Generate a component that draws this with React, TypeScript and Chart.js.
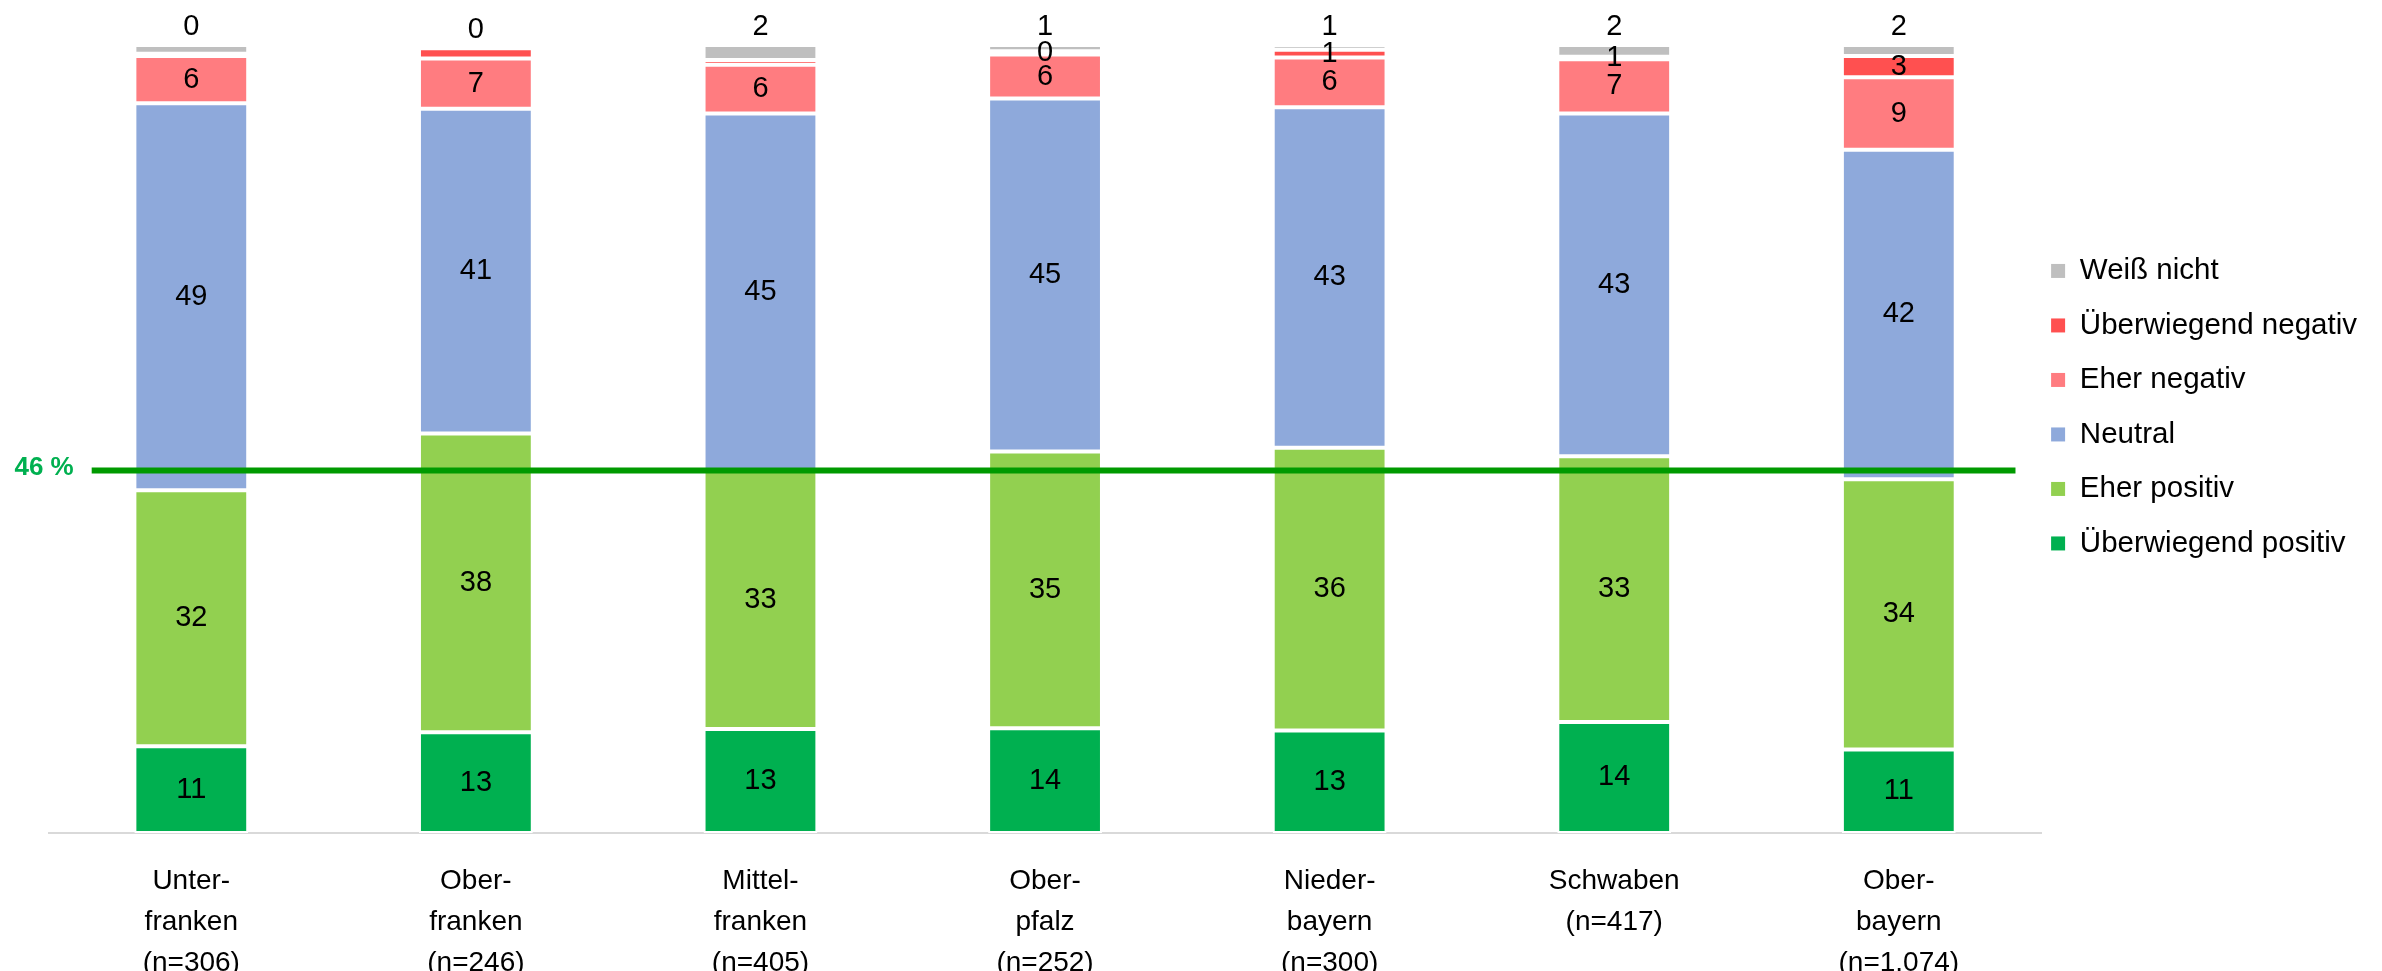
import React, { useEffect, useRef } from 'react';
import { Chart, registerables } from 'chart.js';

Chart.register(...registerables);

const SANS = '"Liberation Sans", Arial, sans-serif';

const categories = [
  ['Unter-', 'franken', '(n=306)'],
  ['Ober-', 'franken', '(n=246)'],
  ['Mittel-', 'franken', '(n=405)'],
  ['Ober-', 'pfalz', '(n=252)'],
  ['Nieder-', 'bayern', '(n=300)'],
  ['Schwaben', '(n=417)'],
  ['Ober-', 'bayern', '(n=1.074)'],
];

const seriesNames = ['Überwiegend positiv', 'Eher positiv', 'Neutral', 'Eher negativ', 'Überwiegend negativ', 'Weiß nicht'];
const seriesColors = ['#00B050', '#92D050', '#8EA9DB', '#FF7C80', '#FF5050', '#BFBFBF'];

// bar heights (percent)
const ueberwiegendPositiv = [11.0, 12.8, 13.2, 13.3, 13.0, 14.1, 10.6];
const eherPositiv = [32.5, 37.9, 32.8, 35.1, 35.9, 33.7, 34.3];
const neutral = [49.1, 41.2, 45.3, 44.8, 43.2, 43.5, 41.8];
const eherNegativ = [6.0, 6.4, 6.2, 5.6, 6.3, 6.9, 9.2];
const ueberwiegendNegativ = [0.3, 1.3, 0.6, 0.4, 1.0, 0.3, 2.7];
const weissNicht = [1.1, 0, 1.9, 0.8, 0.6, 1.5, 1.4];

// printed data labels
const labelsUeberwiegendPositiv = ['11', '13', '13', '14', '13', '14', '11'];
const labelsEherPositiv = ['32', '38', '33', '35', '36', '33', '34'];
const labelsNeutral = ['49', '41', '45', '45', '43', '43', '42'];
const labelsEherNegativ = ['6', '7', '6', '6', '6', '7', '9'];
const labelsUeberwiegendNegativ = ['', '', '', '0', '1', '1', '3'];
const labelsWeissNicht = ['0', '0', '2', '1', '1', '2', '2'];

const referenceValue = 46;
const referenceLabel = '46 %';

const seriesValues = [ueberwiegendPositiv, eherPositiv, neutral, eherNegativ, ueberwiegendNegativ, weissNicht];
const seriesLabels = [labelsUeberwiegendPositiv, labelsEherPositiv, labelsNeutral, labelsEherNegativ, labelsUeberwiegendNegativ, labelsWeissNicht];

const LEGEND_SHIFT = -15;

const legendShiftPlugin = {
  id: 'legendShift',
  afterLayout(chart: any) {
    if (chart.legend) {
      chart.legend.left += LEGEND_SHIFT;
      chart.legend.right += LEGEND_SHIFT;
    }
  },
};

const refLinePlugin = {
  id: 'refLine',
  afterDatasetsDraw(chart: any) {
    const { ctx, scales } = chart;
    const y = scales.y.getPixelForValue(referenceValue);
    const x1 = scales.x.getPixelForValue(-0.35);
    const x2 = scales.x.getPixelForValue(6.41);
    ctx.save();
    ctx.strokeStyle = '#009A00';
    ctx.lineWidth = 6;
    ctx.beginPath();
    ctx.moveTo(x1, y);
    ctx.lineTo(x2, y);
    ctx.stroke();
    ctx.font = `bold 26px ${SANS}`;
    ctx.fillStyle = '#00B050';
    ctx.textAlign = 'right';
    ctx.textBaseline = 'middle';
    ctx.fillText(referenceLabel, x1 - 18, y - 3);
    ctx.restore();
  },
};

const segLabelPlugin = {
  id: 'segLabels',
  afterDatasetsDraw(chart: any) {
    const ctx = chart.ctx;
    ctx.save();
    ctx.font = `29px ${SANS}`;
    ctx.fillStyle = '#000';
    ctx.textAlign = 'center';
    ctx.textBaseline = 'middle';
    const last = chart.data.datasets.length - 1;
    chart.data.datasets.forEach((_ds: any, i: number) => {
      const meta = chart.getDatasetMeta(i);
      meta.data.forEach((el: any, j: number) => {
        const text = seriesLabels[i][j];
        if (!text) return;
        const { x, y, base } = el.getProps(['x', 'y', 'base'], true);
        const cy = i === last ? y - 18 : (y + base) / 2;
        ctx.fillText(text, x, cy);
      });
    });
    ctx.restore();
  },
};

export default function App() {
  const ref = useRef<HTMLCanvasElement | null>(null);
  useEffect(() => {
    if (!ref.current) return;
    const chart = new Chart(ref.current, {
      type: 'bar',
      data: {
        labels: categories as any,
        datasets: seriesNames.map((name, i) => ({
          label: name,
          data: seriesValues[i],
          backgroundColor: seriesColors[i],
          borderColor: '#FFFFFF',
          borderWidth: 2,
          borderSkipped: false,
          barPercentage: 0.4,
          categoryPercentage: 1,
        })),
      },
      options: {
        responsive: false,
        animation: false,
        layout: { padding: { left: 49, top: 45, right: 0, bottom: 0 } },
        scales: {
          x: {
            stacked: true,
            grid: { display: false },
            border: { display: true, color: '#D9D9D9', width: 2 },
            ticks: {
              color: '#000',
              font: { family: SANS, size: 28, lineHeight: '41px' },
              padding: 20,
              maxRotation: 0,
              autoSkip: false,
            },
          },
          y: { stacked: true, display: false, min: 0, max: 100 },
        },
        plugins: {
          legend: {
            position: 'right',
            align: 'start',
            reverse: true,
            title: { display: true, text: ' ', font: { size: 1 }, padding: { top: 0, bottom: 185 } },
            labels: {
              color: '#000',
              boxWidth: 14,
              boxHeight: 14,
              padding: 25,
              font: { family: SANS, size: 29.5 },
              generateLabels: (c: any) =>
                (Chart.defaults.plugins.legend.labels.generateLabels as any)(c).map((l: any) => ({
                  ...l,
                  strokeStyle: l.fillStyle,
                  lineWidth: 0,
                })),
            },
          },
          tooltip: { enabled: false },
        },
      },
      plugins: [legendShiftPlugin, refLinePlugin, segLabelPlugin],
    });
    return () => chart.destroy();
  }, []);
  return (
    <div style={{ position: 'fixed', left: 0, top: 0, width: 2382, height: 971, overflow: 'hidden', background: '#fff' }}>
      <canvas ref={ref} width={2382} height={1004} style={{ display: 'block' }} />
    </div>
  );
}
